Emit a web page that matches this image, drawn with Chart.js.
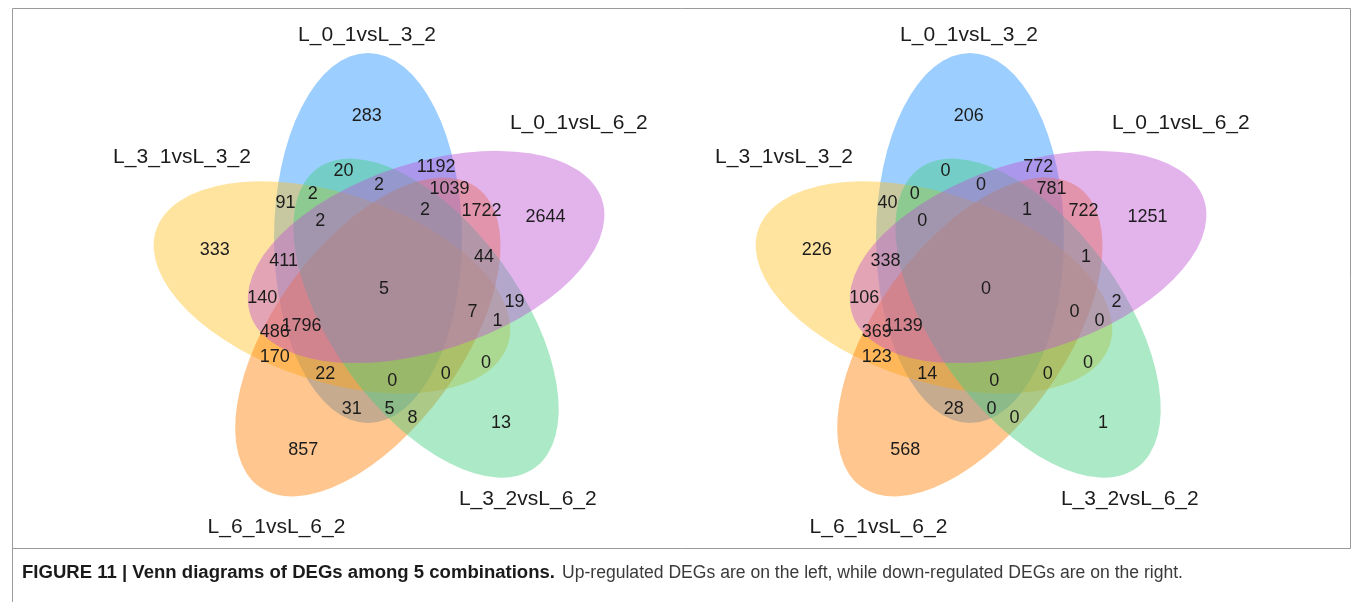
<!DOCTYPE html>
<html>
<head>
<meta charset="utf-8">
<script src="https://cdn.jsdelivr.net/npm/chart.js@4.4.0/dist/chart.umd.min.js"></script>
<style>
  html, body { margin: 0; padding: 0; background: #ffffff; }
  canvas { display: block; }
</style>
</head>
<body>
<canvas id="venn" width="1357" height="602"></canvas>
<script>
// ---- Sets (painted in this order) ----
const setKeys   = ['A', 'B', 'C', 'D', 'E'];
const setNames  = ['L_0_1vsL_3_2', 'L_3_1vsL_3_2', 'L_6_1vsL_6_2', 'L_3_2vsL_6_2', 'L_0_1vsL_6_2'];
const setColors = ['#1E90FF', '#FFC125', '#FF7F00', '#43CD80', '#BF55D3'];

// ---- Regions: each key lists the sets the region belongs to ----
const regionKeys = ['A', 'E', 'D', 'C', 'B', 'AE', 'AD', 'ADE', 'ACE', 'ABD', 'AB', 'ACDE', 'CE', 'ABDE', 'ABE', 'CDE',
                    'ABCDE', 'BE', 'DE', 'BCDE', 'BDE', 'BCE', 'ABCE', 'BC', 'BD', 'ABC', 'ABCD', 'BCD', 'AC', 'ACD', 'CD'];
// Up-regulated DEGs (left diagram)
const upCounts   = [283, 2644, 13, 857, 333, 1192, 20, 2, 1039, 2, 91, 2, 1722, 2, 411, 44,
                    5, 140, 19, 7, 1, 486, 1796, 170, 0, 22, 0, 0, 31, 5, 8];
// Down-regulated DEGs (right diagram)
const downCounts = [206, 1251, 1, 568, 226, 772, 0, 0, 781, 0, 40, 1, 722, 0, 338, 1,
                    0, 106, 2, 0, 0, 369, 1139, 123, 0, 14, 0, 0, 28, 0, 0];

const captionBold = 'FIGURE 11 | Venn diagrams of DEGs among 5 combinations.';
const captionText = 'Up-regulated DEGs are on the left, while down-regulated DEGs are on the right.';

// ---- Layout (page units, y pointing down) ----
const panelCenters   = [[384, 287.5], [986, 287.5]];
const ellipseOffset  = [-16, -49.5];   // centre of the first ellipse relative to the panel centre
const ellipseRadii   = [94, 185];      // semi-minor, semi-major
const ellipseStepDeg = -72;            // each further set is turned by this angle
const ellipseAlpha   = 0.44;
const regionOffsets = [
  [-17.3, -173.2], [161.6, -71.5], [117.1, 134.2], [-80.8, 161.5], [-169.2, -39.2],
  [52.2, -121.8], [-40.5, -117.5], [-4.9, -104.2], [65.4, -99.8], [-71.2, -95.2],
  [-98.6, -85.8], [41.1, -78.5], [97.5, -78.2], [-63.7, -67.5], [-100.4, -28.2],
  [100, -31.8], [0, 0], [-121.8, 9.2], [130.6, 13.5], [88.5, 23.5],
  [113.5, 32.5], [-109.3, 43.5], [-82.6, 37.5], [-109.3, 68.5], [102.1, 74.2],
  [-58.7, 85.2], [8.3, 91.8], [61.8, 85.2], [-32.3, 120.2], [5.5, 120.2], [28.6, 129.2]
];
const setLabelOffsets = [[-17, -254.2], [-202, -132.5], [-107.5, 237.5], [143.8, 209.8], [194.8, -166.5]];

const numberFont = '18px "Liberation Sans", Arial, sans-serif';
const setFont    = '21px "Liberation Sans", Arial, sans-serif';

function hexToRgba(hex, a) {
  const n = parseInt(hex.slice(1), 16);
  return `rgba(${(n >> 16) & 255},${(n >> 8) & 255},${n & 255},${a})`;
}

function rotate(v, deg) {
  const t = deg * Math.PI / 180;
  return [v[0] * Math.cos(t) - v[1] * Math.sin(t), v[0] * Math.sin(t) + v[1] * Math.cos(t)];
}

function panelPoints(counts, p) {
  const [cx, cy] = panelCenters[p];
  return counts.map((v, i) => ({ x: cx + regionOffsets[i][0], y: cy + regionOffsets[i][1], v: v, key: regionKeys[i] }));
}

// Draws the five translucent ellipses of every panel under the count labels
const ellipsePlugin = {
  id: 'vennEllipses',
  beforeDatasetsDraw(chart) {
    const { ctx, scales: { x, y } } = chart;
    ctx.save();
    panelCenters.forEach(([cx, cy]) => {
      setKeys.forEach((k, i) => {
        const ang = ellipseStepDeg * i;
        const off = rotate(ellipseOffset, ang);
        const px = x.getPixelForValue(cx + off[0]);
        const py = y.getPixelForValue(cy + off[1]);
        const rx = Math.abs(x.getPixelForValue(cx + off[0] + ellipseRadii[0]) - px);
        const ry = Math.abs(y.getPixelForValue(cy + off[1] + ellipseRadii[1]) - py);
        ctx.beginPath();
        ctx.ellipse(px, py, rx, ry, ang * Math.PI / 180, 0, Math.PI * 2);
        ctx.fillStyle = hexToRgba(setColors[i], ellipseAlpha);
        ctx.fill();
      });
    });
    ctx.restore();
  }
};

// Writes the region counts at their points, plus set names, frame and caption
const labelPlugin = {
  id: 'vennLabels',
  afterDatasetsDraw(chart) {
    const { ctx, scales: { x, y } } = chart;
    ctx.save();
    ctx.fillStyle = '#1c1c1c';
    ctx.textAlign = 'center';
    ctx.textBaseline = 'alphabetic';
    ctx.font = numberFont;
    chart.data.datasets.forEach((ds, di) => {
      const meta = chart.getDatasetMeta(di);
      meta.data.forEach((el, i) => {
        ctx.fillText(String(ds.data[i].v), el.x, el.y + 6.4);
      });
    });
    ctx.font = setFont;
    panelCenters.forEach(([cx, cy]) => {
      setNames.forEach((name, i) => {
        const px = x.getPixelForValue(cx + setLabelOffsets[i][0]);
        const py = y.getPixelForValue(cy + setLabelOffsets[i][1]);
        ctx.fillText(name, px, py + 7.5);
      });
    });

    // figure frame
    ctx.strokeStyle = '#9a9a9a';
    ctx.lineWidth = 1;
    ctx.beginPath();
    ctx.moveTo(12.5, 602); ctx.lineTo(12.5, 8.5); ctx.lineTo(1350.5, 8.5); ctx.lineTo(1350.5, 548.5);
    ctx.moveTo(12.5, 548.5); ctx.lineTo(1350.5, 548.5);
    ctx.stroke();

    // caption: condensed setting, each part fitted to its run length
    ctx.textAlign = 'left';
    const boldFont = 'bold 18px "Liberation Sans", Arial, sans-serif';
    const regFont = '18px "Liberation Sans", Arial, sans-serif';
    ctx.font = boldFont;
    const wb = ctx.measureText(captionBold).width;
    ctx.save();
    ctx.translate(22, 578);
    ctx.scale(533 / wb, 1);
    ctx.fillStyle = '#1a1a1a';
    ctx.fillText(captionBold, 0, 0);
    ctx.restore();
    ctx.font = regFont;
    const wr = ctx.measureText(captionText).width;
    ctx.save();
    ctx.translate(562, 578);
    ctx.scale(621 / wr, 1);
    ctx.fillStyle = '#3a3a3a';
    ctx.fillText(captionText, 0, 0);
    ctx.restore();
    ctx.restore();
  }
};

new Chart(document.getElementById('venn'), {
  type: 'scatter',
  data: {
    datasets: [
      { label: 'Up-regulated', data: panelPoints(upCounts, 0), pointRadius: 0, pointHoverRadius: 0 },
      { label: 'Down-regulated', data: panelPoints(downCounts, 1), pointRadius: 0, pointHoverRadius: 0 }
    ]
  },
  options: {
    responsive: false,
    animation: false,
    devicePixelRatio: 1,
    layout: { padding: 0 },
    events: [],
    scales: {
      x: { type: 'linear', min: 0, max: 1357, display: false },
      y: { type: 'linear', min: 0, max: 602, reverse: true, display: false }
    },
    plugins: { legend: { display: false }, tooltip: { enabled: false } }
  },
  plugins: [ellipsePlugin, labelPlugin]
});
</script>
</body>
</html>
